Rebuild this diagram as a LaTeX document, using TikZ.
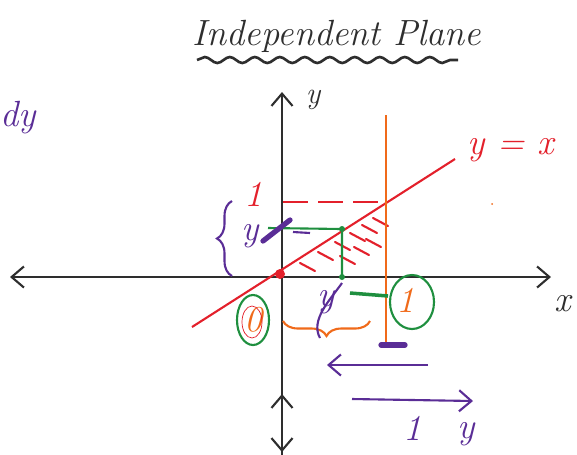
\documentclass[tikz,border=0pt]{standalone}
\usetikzlibrary{arrows.meta,positioning,decorations.pathmorphing,decorations.pathreplacing,calc}
\definecolor{penred}{HTML}{E3202B}
\definecolor{penorange}{HTML}{F06A1A}
\definecolor{pengreen}{HTML}{1F8F3F}
\definecolor{penpurple}{HTML}{5A2D96}
\definecolor{penblack}{HTML}{2E2E2E}

\begin{document}
\begin{tikzpicture}[x=0.02cm,y=-0.02cm,line width=1.2pt,
    barb/.style={-{Straight Barb[length=7pt,width=12pt]}},
    hand/.style={font=\LARGE\itshape,inner sep=0pt},
    bighand/.style={font=\huge\itshape,inner sep=0pt}]
  \useasboundingbox (0,0) rectangle (577,454);
  % title
  \node[font=\huge\itshape,penblack] (title) at (337,36) {Independent Plane};
  \draw[penblack,line width=1.5pt,decorate,decoration={snake,amplitude=0.06cm,segment length=0.5cm}]
    (197,60) -- (458,60);
  \node[bighand,penpurple] (dy) at (18,118) {dy};
  % axes
  \coordinate (xl) at (10,277);
  \coordinate (xr) at (551,277);
  \coordinate (yb) at (282,458);
  \coordinate (yt) at (282,92);
  \draw[penblack,{Straight Barb[length=7pt,width=12pt]}-{Straight Barb[length=7pt,width=12pt]}] (xl) -- (xr);
  \draw[penblack,barb] (yb) -- (yt);
  \draw[penblack,barb] (282,420) -- (282,394);
  \draw[penblack,barb] (282,430) -- (282,452);
  \node[bighand,penblack] (xlab) at (563,304) {x};
  \node[hand,penblack] (ylab) at (313,100) {y};
  % y = x
  \coordinate (ll) at (192,327);
  \coordinate (lr) at (455,159);
  \draw[penred] (ll) -- (lr);
  \node[bighand,penred] (eq) at (511,150) {y = x};
  \fill[penred] (280,274) circle (5);
  \draw[penred,dash pattern=on 14pt off 6pt] (283,202) -- (385,202);
  \node[bighand,penred] (one) at (254,194) {1};
  \foreach \a/\b in {300/263,318/252,335/242,350/233,362/225,373/218,340/256,354/247,366/239}
    \draw[penred,line cap=round] (\a,\b) -- ++(15,8);
  \fill[penorange] (492,204) circle (1);
  % orange x = 1
  \draw[penorange] (386,115) -- (386,345);
  \draw[penpurple,line width=3pt,line cap=round] (381,345) -- (405,345);
  \node[bighand,penorange] (zero) at (254,320) {0};
  \node[bighand,penorange] (onex) at (406,300) {1};
  \draw[penorange,decorate,decoration={brace,mirror,amplitude=0.3cm}] (283,321) -- (370,321);
  % green
  \draw[pengreen] (253,320) ellipse (16 and 25);
  \draw[penred,thin] (252,322) ellipse (10 and 16);
  \draw[pengreen] (412,302) ellipse (22 and 27);
  \coordinate (gp) at (342,229);
  \coordinate (gq) at (342,277);
  \draw[pengreen] (268,228) -- (gp) -- (gq);
  \fill[pengreen] (gp) circle (3);
  \fill[pengreen] (gq) circle (3);
  \draw[pengreen,line width=2pt] (350,293) -- (388,296);
  % purple
  \draw[penpurple,decorate,decoration={brace,amplitude=0.3cm}] (232,276) -- (232,201);
  \node[bighand,penpurple] (ybr) at (250,236) {y};
  \draw[penpurple,line width=3pt,line cap=round] (263,241) -- (290,220);
  \draw[penpurple] (293,232) -- (310,233);
  \node[bighand,penpurple] (yx) at (326,302) {y};
  \draw[penpurple] (320,338) .. controls (310,320) and (330,300) .. (342,283);
  \coordinate (al) at (327,365);
  \coordinate (ar) at (428,365);
  \draw[penpurple,barb] (ar) -- (al);
  \coordinate (bl) at (352,399);
  \coordinate (br) at (473,401);
  \draw[penpurple,barb] (bl) -- (br);
  \node[bighand,penpurple] (onel) at (413,428) {1};
  \node[bighand,penpurple] (yl) at (466,434) {y};
\end{tikzpicture}
\end{document}
